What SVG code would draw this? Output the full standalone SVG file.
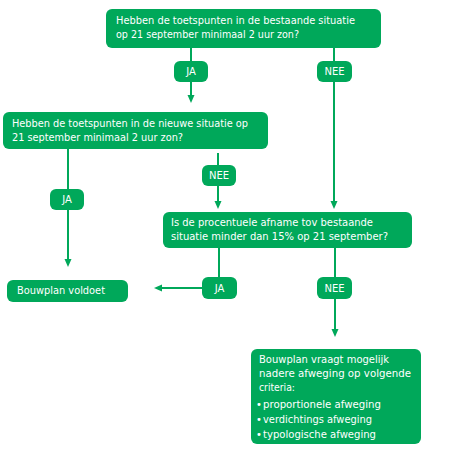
<svg xmlns="http://www.w3.org/2000/svg" width="456" height="457" viewBox="0 0 456 457">
<defs>
<style>
.box{fill:#00a85a;}
.t{font-family:"DejaVu Sans","Liberation Sans",sans-serif;font-size:10px;fill:#ffffff;}
.pt{font-family:"DejaVu Sans","Liberation Sans",sans-serif;font-size:10px;fill:#ffffff;text-anchor:middle;}
.ln{stroke:#00a85a;stroke-width:2;fill:none;}
</style>
<marker id="ah" markerWidth="8" markerHeight="8" refX="4" refY="4" orient="auto" markerUnits="userSpaceOnUse"><path d="M0,0.5 L8,4 L0,7.5 Z" fill="#00a85a"/></marker>
</defs>
<rect width="456" height="457" fill="#ffffff"/>
<g id="connectors">
<line class="ln" x1="191" y1="48" x2="191" y2="99" marker-end="url(#ah)"/>
<line class="ln" x1="334" y1="48" x2="334" y2="205" marker-end="url(#ah)"/>
<line class="ln" x1="68" y1="149" x2="68" y2="263" marker-end="url(#ah)"/>
<line class="ln" x1="218" y1="153" x2="218" y2="205" marker-end="url(#ah)"/>
<line class="ln" x1="219" y1="248" x2="219" y2="288"/>
<line class="ln" x1="219" y1="288" x2="158" y2="288" marker-end="url(#ah)"/>
<line class="ln" x1="335" y1="248" x2="335" y2="333" marker-end="url(#ah)"/>
</g>
<g id="q1">
<rect class="box" x="106" y="9" width="275" height="39" rx="6"/>
<text class="t" x="116" y="24" textLength="239" lengthAdjust="spacingAndGlyphs">Hebben de toetspunten in de bestaande situatie</text>
<text class="t" x="116" y="38" textLength="183" lengthAdjust="spacingAndGlyphs">op 21 september minimaal 2 uur zon?</text>
</g>
<g id="ja1"><rect class="box" x="174" y="61" width="34" height="21" rx="6"/><text class="pt" x="191" y="75">JA</text></g>
<g id="nee1"><rect class="box" x="317" y="61" width="35" height="21" rx="6"/><text class="pt" x="334.5" y="75">NEE</text></g>
<g id="q2">
<rect class="box" x="3" y="112" width="265" height="37" rx="6"/>
<text class="t" x="12" y="127" textLength="236" lengthAdjust="spacingAndGlyphs">Hebben de toetspunten in de nieuwe situatie op</text>
<text class="t" x="12" y="141" textLength="171" lengthAdjust="spacingAndGlyphs">21 september minimaal 2 uur zon?</text>
</g>
<g id="ja2"><rect class="box" x="50" y="189" width="34" height="21" rx="6"/><text class="pt" x="67" y="203">JA</text></g>
<g id="nee2"><rect class="box" x="202" y="165" width="34" height="21" rx="6"/><text class="pt" x="219" y="179">NEE</text></g>
<g id="q3">
<rect class="box" x="163" y="212" width="249" height="36" rx="6"/>
<text class="t" x="171" y="226" textLength="202" lengthAdjust="spacingAndGlyphs">Is de procentuele afname tov bestaande</text>
<text class="t" x="171" y="240" textLength="217" lengthAdjust="spacingAndGlyphs">situatie minder dan 15% op 21 september?</text>
</g>
<g id="ja3"><rect class="box" x="202" y="277" width="35" height="22" rx="6"/><text class="pt" x="219.5" y="292">JA</text></g>
<g id="nee3"><rect class="box" x="317" y="277" width="35" height="22" rx="6"/><text class="pt" x="334.5" y="292">NEE</text></g>
<g id="voldoet">
<rect class="box" x="7" y="280" width="121" height="22" rx="6"/>
<text class="t" x="17" y="294" textLength="88" lengthAdjust="spacingAndGlyphs">Bouwplan voldoet</text>
</g>
<g id="afweging">
<rect class="box" x="251" y="349" width="170" height="95" rx="6"/>
<text class="t" x="259" y="363" textLength="130" lengthAdjust="spacingAndGlyphs">Bouwplan vraagt mogelijk</text>
<text class="t" x="259" y="377" textLength="152" lengthAdjust="spacingAndGlyphs">nadere afweging op volgende</text>
<text class="t" x="259" y="391" textLength="36" lengthAdjust="spacingAndGlyphs">criteria:</text>
<text class="t" x="256" y="408">•</text>
<text class="t" x="263" y="408" textLength="118" lengthAdjust="spacingAndGlyphs">proportionele afweging</text>
<text class="t" x="256" y="423">•</text>
<text class="t" x="263" y="423" textLength="109" lengthAdjust="spacingAndGlyphs">verdichtings afweging</text>
<text class="t" x="256" y="438">•</text>
<text class="t" x="263" y="438" textLength="113" lengthAdjust="spacingAndGlyphs">typologische afweging</text>
</g>
</svg>
